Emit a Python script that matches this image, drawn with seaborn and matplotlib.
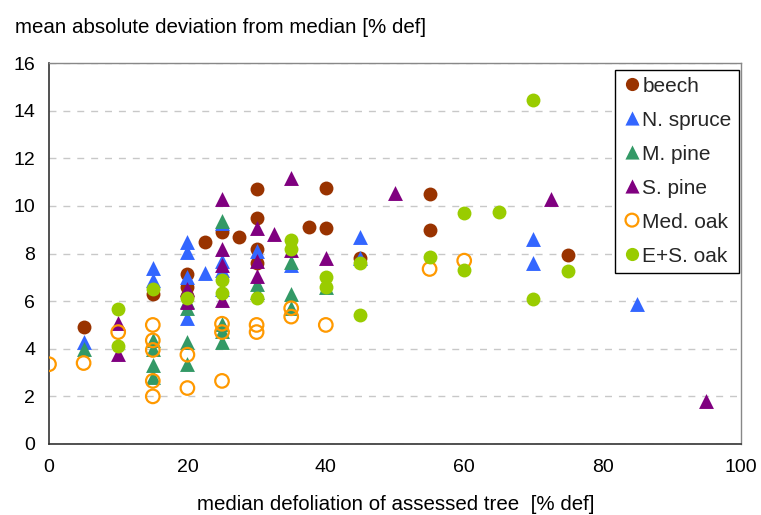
import matplotlib
matplotlib.use("Agg")
import matplotlib.pyplot as plt
import seaborn as sns

# ---- data ----
beech_x = [5, 15, 20, 20, 20, 22.5, 25, 27.5, 30, 30, 30, 30, 37.5, 40, 40, 45, 55, 55, 75]
beech_y = [4.9, 6.3, 7.15, 6.6, 6.2, 8.5, 8.9, 8.7, 10.7, 9.5, 8.2, 7.6, 9.1, 10.75, 9.05, 7.8, 10.5, 9.0, 7.95]

spruce_x = [5, 15, 15, 20, 20, 20, 20, 22.5, 25, 25, 25, 25, 30, 35, 45, 45, 70, 70, 85]
spruce_y = [4.3, 7.4, 6.9, 8.5, 8.05, 7.0, 5.3, 7.2, 9.3, 7.7, 7.3, 6.5, 8.1, 7.5, 8.7, 7.8, 8.6, 7.6, 5.9]

mpine_x = [5, 15, 15, 15, 15, 20, 20, 20, 20, 25, 25, 25, 25, 30, 30, 35, 35, 35, 40]
mpine_y = [4.0, 4.35, 4.0, 3.3, 2.8, 6.0, 5.7, 4.3, 3.35, 9.35, 5.05, 4.75, 4.3, 6.7, 6.4, 7.65, 6.3, 5.7, 6.6]

spine_x = [10, 10, 20, 20, 25, 25, 25, 25, 30, 30, 30, 32.5, 35, 35, 40, 50, 72.5, 95]
spine_y = [3.8, 5.1, 6.5, 5.95, 10.3, 8.2, 7.5, 6.05, 9.05, 7.7, 7.05, 8.8, 11.15, 8.15, 7.8, 10.55, 10.3, 1.8]

medoak_x = [0, 5, 10, 15, 15, 15, 15, 15, 20, 20, 25, 25, 25, 30, 30, 35, 35, 40, 55, 60]
medoak_y = [3.35, 3.4, 4.7, 5.0, 4.35, 3.95, 2.65, 2.0, 3.75, 2.35, 5.05, 4.7, 2.65, 5.0, 4.7, 5.7, 5.35, 5.0, 7.35, 7.7]

esoak_x = [10, 10, 15, 20, 25, 25, 30, 35, 35, 40, 40, 45, 45, 55, 60, 60, 65, 70, 70, 75]
esoak_y = [5.65, 4.1, 6.5, 6.15, 6.9, 6.35, 6.15, 8.55, 8.2, 7.0, 6.6, 7.6, 5.4, 7.85, 9.7, 7.3, 9.75, 14.45, 6.1, 7.25]

x_ticks = [0, 20, 40, 60, 80, 100]
y_ticks = [0, 2, 4, 6, 8, 10, 12, 14, 16]

sns.set_theme(style="white")
plt.rcParams['font.family'] = ['Liberation Sans', 'DejaVu Sans']

fig = plt.figure(figsize=(7.61, 5.15), dpi=100)
ax = fig.add_axes([49/761, 1-444/515, (741-49)/761, (444-63)/515])

S = 100
sns.scatterplot(x=beech_x, y=beech_y, ax=ax, marker='o', s=S, color='#993300', linewidth=0, label='beech', zorder=3)
sns.scatterplot(x=spruce_x, y=spruce_y, ax=ax, marker='^', s=S*1.15, color='#3366FF', linewidth=0, label='N. spruce', zorder=3)
sns.scatterplot(x=mpine_x, y=mpine_y, ax=ax, marker='^', s=S*1.15, color='#339966', linewidth=0, label='M. pine', zorder=3)
sns.scatterplot(x=spine_x, y=spine_y, ax=ax, marker='^', s=S*1.15, color='#800080', linewidth=0, label='S. pine', zorder=3)
sns.scatterplot(x=medoak_x, y=medoak_y, ax=ax, marker='o', s=S*0.95, color='#FF9900', facecolors='none',
                edgecolor='#FF9900', linewidth=1.6, label='Med. oak', zorder=3)
sns.scatterplot(x=esoak_x, y=esoak_y, ax=ax, marker='o', s=S, color='#99CC00', linewidth=0, label='E+S. oak', zorder=3)

ax.set_xlim(0, 100)
ax.set_ylim(0, 16)
ax.set_xticks(x_ticks)
ax.set_yticks(y_ticks)
ax.tick_params(axis='both', labelsize=14, colors='black', direction='out', length=6, width=1)
ax.tick_params(axis='x', pad=5)
ax.tick_params(axis='y', pad=4)
ax.yaxis.grid(True, linestyle=(0, (5, 5)), color='#c8c8c8', linewidth=1)
ax.xaxis.grid(False)
ax.set_axisbelow(True)
for side in ['left', 'bottom']:
    ax.spines[side].set_color('#333333')
    ax.spines[side].set_linewidth(1.2)
for side in ['top', 'right']:
    ax.spines[side].set_color('#888888')
    ax.spines[side].set_linewidth(1.0)
ax.set_xlabel('')
ax.set_ylabel('')

leg = ax.legend(loc='upper right', bbox_to_anchor=(0.997, 0.982), fontsize=15, frameon=True,
                fancybox=False, edgecolor='black', framealpha=1, markerscale=0.95,
                scatterpoints=1, scatteryoffsets=[0.55],
                handletextpad=0.05, handlelength=0.9, labelspacing=0.72, borderpad=0.35,
                borderaxespad=0)
leg.get_frame().set_linewidth(1.0)

fig.text(15/761, 1-33/515, 'mean absolute deviation from median [% def]', fontsize=14.8,
         ha='left', va='baseline', color='black')
fig.text(395.5/761, 1-510/515, 'median defoliation of assessed tree  [% def]', fontsize=14.8,
         ha='center', va='baseline', color='black')

fig.savefig('out.png', dpi=100)
